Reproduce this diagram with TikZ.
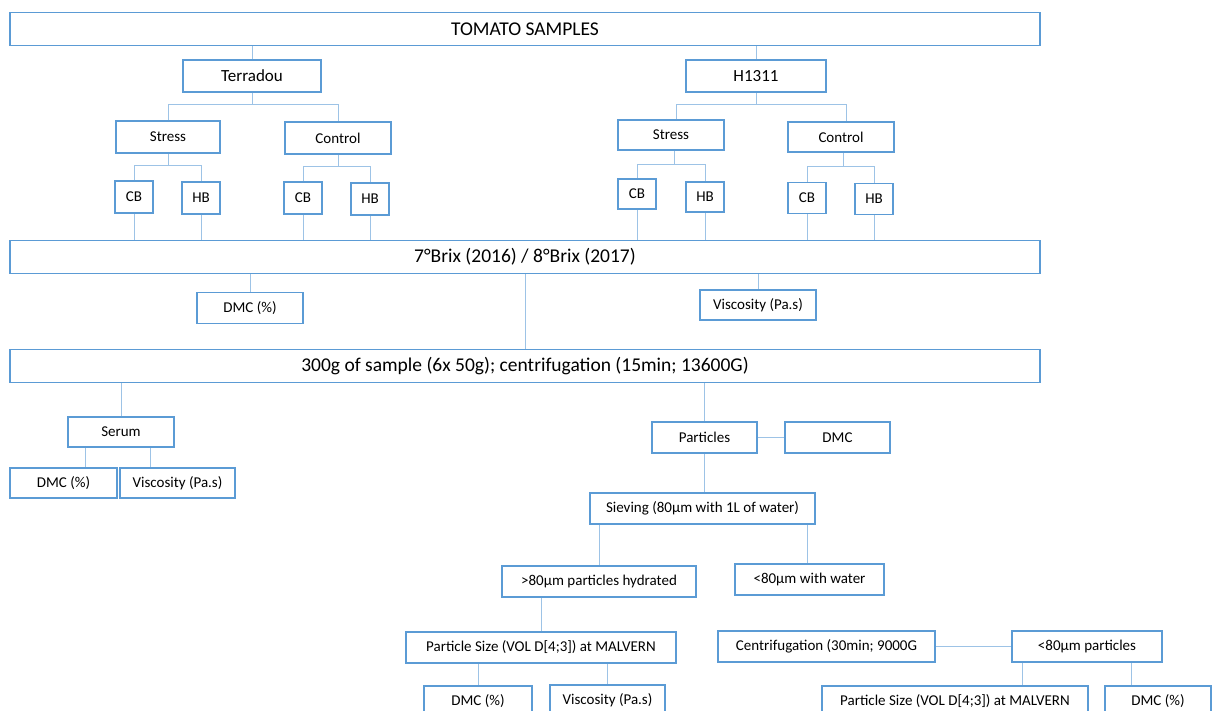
\documentclass[tikz,border=0pt]{standalone}
\usepackage{fontspec}
\setmainfont{Carlito}
\definecolor{boxblue}{RGB}{91,155,213}
\definecolor{linkblue}{RGB}{157,195,230}
\tikzstyle{flowfig}=[x=1pt,y=-1pt]
\tikzstyle{box}=[draw=boxblue,line width=1.5pt,inner sep=0pt,minimum height=31pt,font=\fontsize{15}{18}\selectfont]
\tikzstyle{midbox}=[box,minimum height=32pt,font=\fontsize{17}{20}\selectfont]
\tikzstyle{bigbox}=[box,minimum width=1030pt,minimum height=33pt,font=\fontsize{19.5}{23}\selectfont]
\tikzstyle{link}=[draw=linkblue,line width=1pt]

\begin{document}
\begin{tikzpicture}[style=flowfig]
\fill[white] (0,0) rectangle (1212,710);
\useasboundingbox (0,0) rectangle (1212,710);
\clip (0,0) rectangle (1212,710);

\node[bigbox] (tomato) at (525,29) {TOMATO SAMPLES};
\node[midbox,minimum width=138pt] (terradou) at (252,76) {Terradou};
\node[midbox,minimum width=140pt] (hybrid) at (756,76) {H1311};

\node[box,minimum width=104pt,minimum height=32pt] (stressA) at (168,137) {Stress};
\node[box,minimum width=106pt,minimum height=32pt] (controlA) at (338,138) {Control};
\node[box,minimum width=106pt,minimum height=30pt] (stressB) at (671,135) {Stress};
\node[box,minimum width=106pt,minimum height=30pt] (controlB) at (841,137) {Control};

\node[box,minimum width=38pt,minimum height=32pt] (cbA1) at (134,197) {CB};
\node[box,minimum width=38pt,minimum height=32pt] (hbA1) at (201,198) {HB};
\node[box,minimum width=38pt,minimum height=32pt] (cbA2) at (303,198) {CB};
\node[box,minimum width=38pt,minimum height=32pt] (hbA2) at (370,199) {HB};
\node[box,minimum width=38pt,minimum height=30pt] (cbB1) at (637,194) {CB};
\node[box,minimum width=38pt,minimum height=30pt] (hbB1) at (705,197) {HB};
\node[box,minimum width=38pt,minimum height=31pt] (cbB2) at (807,198) {CB};
\node[box,minimum width=38pt,minimum height=31pt] (hbB2) at (874,199) {HB};

\node[bigbox] (brix) at (525,257) {7°Brix (2016) / 8°Brix (2017)};
\node[box,minimum width=106pt] (dmcA) at (250,308) {DMC (\%)};
\node[box,minimum width=116pt,minimum height=30pt] (viscA) at (758,305) {Viscosity (Pa.s)};

\node[bigbox] (sample) at (525,366) {300g of sample (6x 50g); centrifugation (15min; 13600G)};

\node[box,minimum width=106pt,minimum height=30pt] (serum) at (121,432) {Serum};
\node[box,minimum width=107pt,minimum height=30pt] (dmcS) at (63.5,483) {DMC (\%)};
\node[box,minimum width=115pt,minimum height=30pt] (viscS) at (177.5,483) {Viscosity (Pa.s)};

\node[box,minimum width=105pt] (particles) at (704.5,437.5) {Particles};
\node[box,minimum width=105pt] (dmcP) at (837.5,437.5) {DMC};
\node[box,minimum width=225pt] (sieving) at (702.5,508.5) {Sieving (80µm with 1L of water)};
\node[box,minimum width=194pt] (coarse) at (599,581.5) {>80µm particles hydrated};
\node[box,minimum width=149pt] (fineW) at (809.5,579.5) {<80µm with water};

\node[box,minimum width=270pt] (sizeA) at (541,647.5) {Particle Size (VOL D[4;3]) at MALVERN};
\node[box,minimum width=108pt] (dmcC) at (478,701.5) {DMC (\%)};
\node[box,minimum width=115pt] (viscC) at (607.5,700.5) {Viscosity (Pa.s)};

\node[box,minimum width=217pt] (centri) at (826.5,646.5) {Centrifugation (30min; 9000G};
\node[box,minimum width=150pt] (fineP) at (1087,646.5) {<80µm particles};
\node[box,minimum width=266pt] (sizeB) at (955,701.5) {Particle Size (VOL D[4;3]) at MALVERN};
\node[box,minimum width=106pt] (dmcF) at (1158,701.5) {DMC (\%)};

\draw[link] (tomato.south -| terradou.north) -- (terradou.north);
\draw[link] (tomato.south -| hybrid.north) -- (hybrid.north);

\draw[link] (terradou.south) -- ++(0,12) coordinate (jTer);
\draw[link] (stressA.north) |- (jTer) -| (controlA.north);
\draw[link] (hybrid.south) -- ++(0,12) coordinate (jHyb);
\draw[link] ([xshift=5pt]stressB.north) |- (jHyb) -| ([xshift=5pt]controlB.north);

\draw[link] (stressA.south) -- ++(0,12) coordinate (jSA);
\draw[link] (cbA1.north) |- (jSA) -| (hbA1.north);
\draw[link] (controlA.south) -- ++(0,12) coordinate (jCA);
\draw[link] (cbA2.north) |- (jCA) -| (hbA2.north);
\draw[link] ([xshift=3pt]stressB.south) -- ++(0,14) coordinate (jSB);
\draw[link] (cbB1.north) |- (jSB) -| (hbB1.north);
\draw[link] ([xshift=2pt]controlB.south) -- ++(0,14) coordinate (jCB);
\draw[link] (cbB2.north) |- (jCB) -| (hbB2.north);

\foreach \b in {cbA1,hbA1,cbA2,hbA2,cbB1,hbB1,cbB2,hbB2}
  \draw[link] (\b.south) -- (\b.south |- brix.north);

\draw[link] (brix.south -| dmcA.north) -- (dmcA.north);
\draw[link] (brix.south -| viscA.north) -- (viscA.north);
\draw[link] (brix.south) -- (sample.north);

\draw[link] (sample.south -| serum.north) -- (serum.north);
\draw[link] ([xshift=-36pt]serum.south) -- ([xshift=-36pt]serum.south |- dmcS.north);
\draw[link] ([xshift=29pt]serum.south) -- ([xshift=29pt]serum.south |- viscS.north);

\draw[link] (sample.south -| particles.north) -- (particles.north);
\draw[link] (particles.east) -- (dmcP.west);
\draw[link] (particles.south) -- (particles.south |- sieving.north);
\draw[link] (coarse.north |- sieving.south) -- (coarse.north);
\draw[link] ([xshift=-2pt]fineW.north |- sieving.south) -- ([xshift=-2pt]fineW.north);
\draw[link] (coarse.south -| sizeA.north) -- (sizeA.north);
\draw[link] (dmcC.north |- sizeA.south) -- (dmcC.north);
\draw[link] (viscC.north |- sizeA.south) -- (viscC.north);

\draw[link] (centri.east) -- (fineP.west);
\draw[link] ([xshift=-65pt]fineP.south) -- ([xshift=-65pt]fineP.south |- sizeB.north);
\draw[link] ([xshift=44pt]fineP.south) -- ([xshift=44pt]fineP.south |- dmcF.north);
\end{tikzpicture}
\end{document}
